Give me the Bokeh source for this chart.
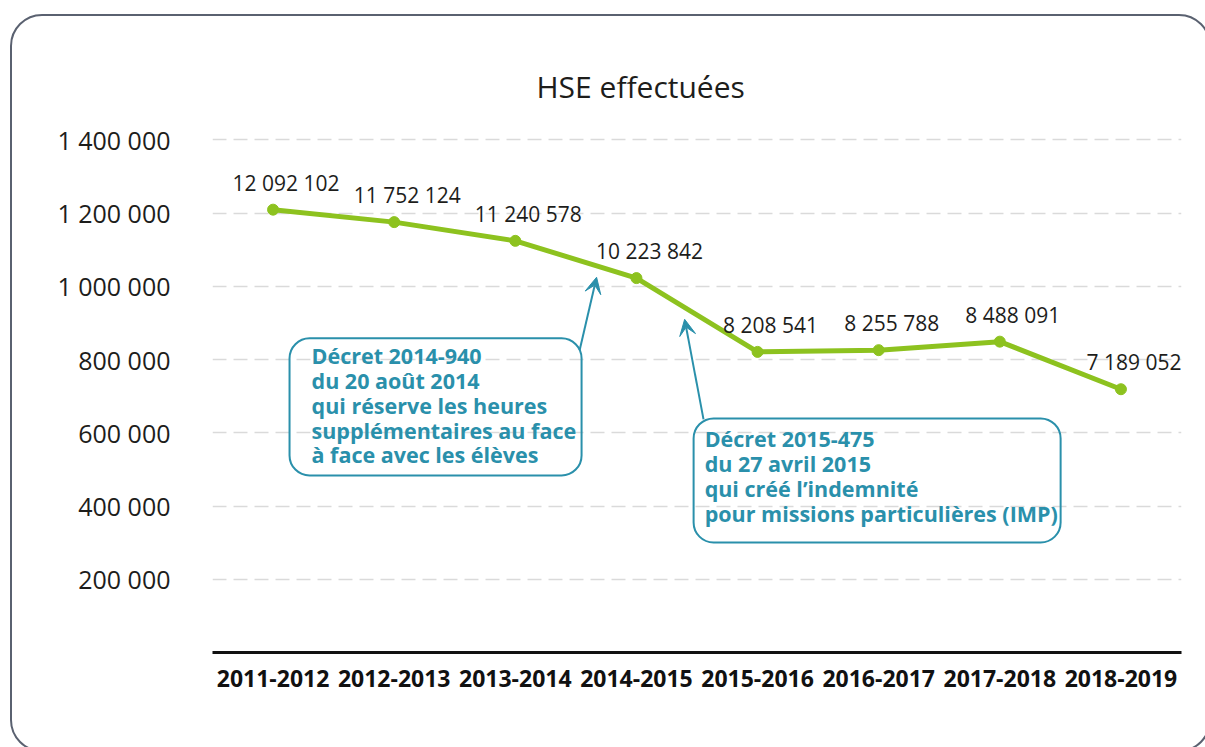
from bokeh.plotting import figure
from bokeh.models import (Range1d, FixedTicker, CustomJSTickFormatter, BoxAnnotation,
                          Label, Arrow, VeeHead, ColumnDataSource, InlineStyleSheet)
from bokeh.core.properties import value
from bokeh.embed import file_html
from bokeh.resources import INLINE

# ---- data ----
years = ["2011-2012", "2012-2013", "2013-2014", "2014-2015",
         "2015-2016", "2016-2017", "2017-2018", "2018-2019"]
hse_plotted = [1209210, 1175212, 1124058, 1022384, 820854, 825579, 848809, 718905]
hse_labels = ["12 092 102", "11 752 124", "11 240 578", "10 223 842",
              "8 208 541", "8 255 788", "8 488 091", "7 189 052"]
y_ticks = [200000, 400000, 600000, 800000, 1000000, 1200000, 1400000]
title_text = "HSE effectuées"
note1 = "Décret 2014-940\ndu 20 août 2014\nqui réserve les heures\nsupplémentaires au face\nà face avec les élèves"
note2 = "Décret 2015-475\ndu 27 avril 2015\nqui créé l’indemnité\npour missions particulières (IMP)"

GREEN = "#8dc21f"
TEAL = "#2a90ab"
FONT = "Open Sans"
TXT = "#1d1d1b"

p = figure(x_range=years, y_range=Range1d(0, 1480000), width=1205, height=747,
           output_backend="svg", toolbar_location=None,
           min_border_left=212, min_border_right=24, min_border_top=110, min_border_bottom=95)
p.outline_line_color = None
p.background_fill_color = "white"
p.border_fill_color = "white"

# outer rounded frame (decoration around the whole chart)
p.stylesheets = [InlineStyleSheet(css="""
:host { overflow: hidden; }
:host::after {
  content: ""; position: absolute; left: 10px; top: 14px; right: -6px; bottom: -5px;
  border: 2.5px solid #5a6170; border-radius: 32px; pointer-events: none;
  box-sizing: border-box; z-index: 10;
}
""")]

# title
p.title.text = title_text
p.title.text_font = FONT
p.title.text_font_size = "30px"
p.title.text_font_style = "normal"
p.title.text_color = TXT
p.title.align = "left"
p.title.offset = 324
p.title.standoff = 8

# axes
xa = p.xaxis[0]
xa.axis_line_color = "#111111"
xa.axis_line_width = 3
xa.major_tick_line_color = None
xa.minor_tick_line_color = None
xa.major_label_text_font = FONT
xa.major_label_text_font_style = "bold"
xa.major_label_text_font_size = "23px"
xa.major_label_text_color = "#111111"
xa.major_label_standoff = 11

ya = p.yaxis[0]
ya.ticker = FixedTicker(ticks=y_ticks)
ya.formatter = CustomJSTickFormatter(code="return tick.toFixed(0).replace(/\\B(?=(\\d{3})+(?!\\d))/g, ' ');")
ya.axis_line_color = None
ya.major_tick_line_color = None
ya.minor_tick_line_color = None
ya.major_label_text_font = FONT
ya.major_label_text_font_size = "25px"
ya.major_label_text_color = TXT
ya.major_label_standoff = 36

p.xgrid.grid_line_color = None
p.ygrid.grid_line_color = "#dadada"
p.ygrid.grid_line_width = 1.5
p.ygrid.grid_line_dash = "14 7"

# data
src = ColumnDataSource(dict(x=years, y=hse_plotted, lab=hse_labels))
p.line("x", "y", source=src, line_width=5, line_color=GREEN)
p.scatter("x", "y", source=src, size=11, fill_color=GREEN, line_color=GREEN)
p.text("x", "y", text="lab", source=src, x_offset=13, y_offset=-27,
       text_align="center", text_baseline="middle",
       text_font=value(FONT), text_font_size="21px", text_color=TXT)

# annotation boxes
box1 = BoxAnnotation(left=0.636, right=3.047, top=857900, bottom=483600,
                     fill_color=None, fill_alpha=0, line_color=TEAL, line_alpha=1,
                     line_width=2, border_radius=20)
box2 = BoxAnnotation(left=3.972, right=7.002, top=639300, bottom=300500,
                     fill_color=None, fill_alpha=0, line_color=TEAL, line_alpha=1,
                     line_width=2, border_radius=20)
p.add_layout(box1)
p.add_layout(box2)

lab1 = Label(x=0.8175, y=849700, text=note1, text_font=FONT, text_font_style="bold",
             text_font_size="21.5px", text_color=TEAL, text_align="left",
             text_baseline="top", text_line_height=0.854)
lab2 = Label(x=4.063, y=622960, text=note2, text_font=FONT, text_font_style="bold",
             text_font_size="21.5px", text_color=TEAL, text_align="left",
             text_baseline="top", text_line_height=0.854)
p.add_layout(lab1)
p.add_layout(lab2)

arr1 = Arrow(x_start=3.031, y_start=825100, x_end=3.171, y_end=1024600,
             line_color=TEAL, line_width=2,
             end=VeeHead(size=16, fill_color=TEAL, line_color=TEAL))
arr2 = Arrow(x_start=4.054, y_start=636600, x_end=3.898, y_end=909800,
             line_color=TEAL, line_width=2,
             end=VeeHead(size=16, fill_color=TEAL, line_color=TEAL))
p.add_layout(arr1)
p.add_layout(arr2)

open("out.html", "w").write(file_html(p, INLINE))
